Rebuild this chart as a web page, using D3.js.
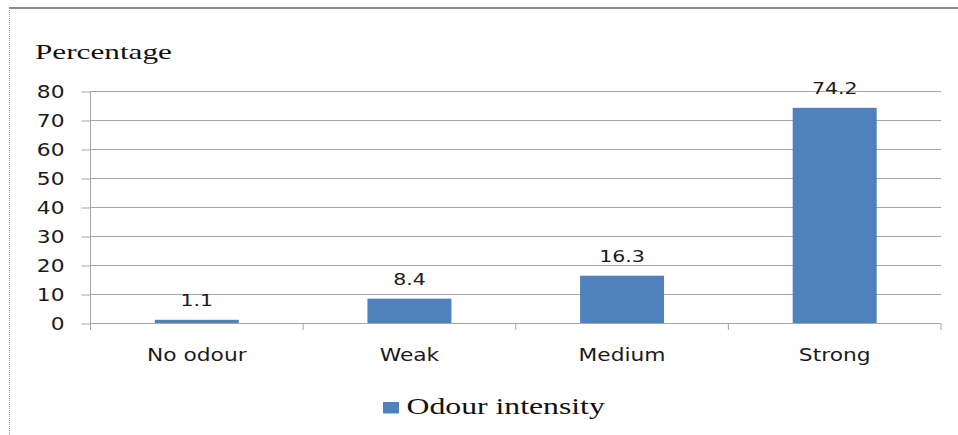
<!DOCTYPE html>
<html>
<head>
<meta charset="utf-8">
<script src="https://cdn.jsdelivr.net/npm/d3@7"></script>
<style>
  html, body { margin: 0; padding: 0; background: #fff; }
  svg { display: block; }
</style>
</head>
<body>
<svg id="chart"></svg>
<script>
const categories = ['No odour', 'Weak', 'Medium', 'Strong'];
const values = [1.1, 8.4, 16.3, 74.2];
const yTicks = [0, 10, 20, 30, 40, 50, 60, 70, 80];
const seriesName = 'Odour intensity';
const yTitle = 'Percentage';

const W = 958, H = 435;
const margin = { top: 91, right: 17, bottom: 112, left: 90.5 };
const SANS = '"DejaVu Sans", Verdana, sans-serif';
const SERIF = '"Liberation Serif", "Times New Roman", serif';
// the picture is stretched sideways, so text is widened to match
const SANS_SX = 1.28;
const SERIF_SX = 1.38;
const barColor = '#4f81bd';
const gridColor = '#a6a6a6';

const svg = d3.select('#chart')
  .attr('width', W)
  .attr('height', H);

svg.append('rect').attr('width', W).attr('height', H).attr('fill', '#fff');

// frame: top and left edges only
svg.append('line')
  .attr('x1', 9).attr('x2', W).attr('y1', 8).attr('y2', 8)
  .attr('stroke', '#8c8c8c').attr('stroke-width', 2);
svg.append('line')
  .attr('x1', 9.5).attr('x2', 9.5).attr('y1', 8).attr('y2', H)
  .attr('stroke', '#a0a0a0').attr('stroke-width', 1)
  .attr('stroke-dasharray', '1,1');

const x0 = margin.left, x1 = W - margin.right;
const y0 = H - margin.bottom, y1 = margin.top;

const pad = 0.605;
const x = d3.scaleBand()
  .domain(categories)
  .range([x0, x1])
  .paddingInner(pad)
  .paddingOuter(pad / 2);

const y = d3.scaleLinear()
  .domain([0, 80])
  .range([y0, y1]);

// gridlines
svg.append('g')
  .selectAll('line')
  .data(yTicks.filter(d => d > 0))
  .join('line')
  .attr('x1', x0).attr('x2', x1)
  .attr('y1', d => Math.round(y(d)) + 0.5)
  .attr('y2', d => Math.round(y(d)) + 0.5)
  .attr('stroke', gridColor)
  .attr('stroke-width', 1);

// y axis
const yAxis = svg.append('g')
  .attr('transform', `translate(${x0},0)`)
  .call(d3.axisLeft(y).tickValues(yTicks).tickSize(9).tickPadding(0));
yAxis.select('.domain').remove();
yAxis.selectAll('.tick line')
  .attr('stroke', gridColor)
  .attr('transform', 'translate(0,0.5)');
yAxis.selectAll('.tick text')
  .attr('x', 0)
  .attr('dy', '0.36em')
  .attr('transform', `translate(-26,0) scale(${SANS_SX},1)`)
  .attr('font-family', SANS)
  .attr('font-size', 17)
  .attr('fill', '#1a1a1a');
svg.append('line')
  .attr('x1', x0).attr('x2', x0).attr('y1', y1).attr('y2', y0)
  .attr('stroke', gridColor);

// bars
svg.append('g')
  .selectAll('rect')
  .data(values)
  .join('rect')
  .attr('x', (d, i) => x(categories[i]))
  .attr('width', x.bandwidth())
  .attr('y', d => y(d))
  .attr('height', d => y0 - y(d))
  .attr('fill', barColor);

// x axis line and category boundary ticks
svg.append('line')
  .attr('x1', x0).attr('x2', x1).attr('y1', y0 + 0.5).attr('y2', y0 + 0.5)
  .attr('stroke', gridColor);
const bounds = categories.map(c => x(c) - (x.step() - x.bandwidth()) / 2).concat([x1]);
svg.append('g')
  .selectAll('line')
  .data(bounds)
  .join('line')
  .attr('x1', d => d).attr('x2', d => d)
  .attr('y1', y0).attr('y2', y0 + 7)
  .attr('stroke', gridColor);

// category labels
svg.append('g')
  .selectAll('text')
  .data(categories)
  .join('text')
  .attr('transform', d => `translate(${x(d) + x.bandwidth() / 2},361) scale(${SANS_SX},1)`)
  .attr('text-anchor', 'middle')
  .attr('font-family', SANS)
  .attr('font-size', 17)
  .attr('fill', '#1a1a1a')
  .text(d => d);

// value labels
svg.append('g')
  .selectAll('text')
  .data(values)
  .join('text')
  .attr('transform', (d, i) => `translate(${x(categories[i]) + x.bandwidth() / 2},${y(d) - 14}) scale(${SANS_SX},1)`)
  .attr('text-anchor', 'middle')
  .attr('font-family', SANS)
  .attr('font-size', 16)
  .attr('fill', '#1a1a1a')
  .text(d => d.toFixed(1));

// y title
svg.append('text')
  .attr('transform', `translate(35,59) scale(1.42,1)`)
  .attr('font-family', SERIF)
  .attr('font-size', 22)
  .attr('fill', '#111')
  .text(yTitle);

// legend
const legend = svg.append('g').attr('transform', 'translate(383,0)');
legend.append('rect')
  .attr('x', 0).attr('y', 402)
  .attr('width', 16).attr('height', 11.5)
  .attr('fill', barColor);
legend.append('text')
  .attr('transform', `translate(23.5,414) scale(${SERIF_SX},1)`)
  .attr('font-family', SERIF)
  .attr('font-size', 23)
  .attr('fill', '#111')
  .text(seriesName);
</script>
</body>
</html>
